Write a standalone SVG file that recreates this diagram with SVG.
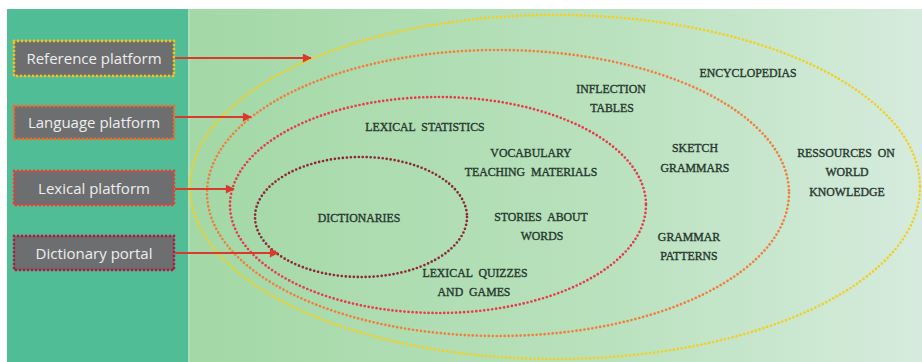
<svg xmlns="http://www.w3.org/2000/svg" width="922" height="362" viewBox="0 0 922 362">
  <defs>
    <linearGradient id="fieldGrad" x1="0" y1="0" x2="1" y2="0">
      <stop offset="0" stop-color="#a3d8a6"/>
      <stop offset="0.55" stop-color="#b8e1bc"/>
      <stop offset="1" stop-color="#d6ebdd"/>
    </linearGradient>
    <marker id="arrowHead" viewBox="0 0 10 10" refX="9" refY="5" markerWidth="10" markerHeight="9" markerUnits="userSpaceOnUse" orient="auto">
      <path d="M0,0 L10,5 L0,10 z" fill="#d83a2c"/>
    </marker>
    <style>
      .panel-box { fill: #6d6e70; stroke-width: 2.8; stroke-dasharray: 0 4; stroke-linecap: round; }
      .box-label { font-family: "Open Sans", "Noto Sans", sans-serif; font-size: 15px; fill: #eeeeee; text-anchor: middle; }
      .ring { fill: none; stroke-width: 2.7; stroke-dasharray: 0 4; stroke-linecap: round; }
      .res { font-family: "Liberation Serif", "Times New Roman", serif; font-size: 11.8px; fill: #27372e; text-anchor: middle; word-spacing: 3px; stroke: #27372e; stroke-width: 0.35; }
      .link { stroke: #d83a2c; stroke-width: 2.2; fill: none; marker-end: url(#arrowHead); }
    </style>
  </defs>

  <!-- background panels -->
  <rect x="0" y="0" width="922" height="362" fill="#ffffff"/>
  <rect x="7" y="9" width="182" height="353" fill="#50bd96"/>
  <rect x="188" y="9" width="734" height="353" fill="url(#fieldGrad)"/>
  <rect x="188" y="9" width="2" height="353" fill="#b4e2bc" opacity="0.7"/>

  <!-- nested resource rings -->
  <g id="ring-reference">
    <ellipse class="ring" cx="555" cy="187" rx="365" ry="172" stroke="#f3cf24"/>
  </g>
  <g id="ring-language">
    <ellipse class="ring" cx="498" cy="193" rx="291" ry="143" stroke="#f27d3c"/>
  </g>
  <g id="ring-lexical">
    <ellipse class="ring" cx="438" cy="205" rx="208" ry="108" stroke="#e83a4c"/>
  </g>
  <g id="ring-dictionary">
    <ellipse class="ring" cx="361" cy="217" rx="106" ry="60" stroke="#8e2638"/>
  </g>

  <!-- resource labels -->
  <g id="resources">
    <text class="res" x="748" y="77">ENCYCLOPEDIAS</text>
    <text class="res" x="611" y="93">INFLECTION</text>
    <text class="res" x="612" y="112">TABLES</text>
    <text class="res" x="425" y="131">LEXICAL  STATISTICS</text>
    <text class="res" x="531" y="157">VOCABULARY</text>
    <text class="res" x="531" y="176">TEACHING  MATERIALS</text>
    <text class="res" x="695" y="152">SKETCH</text>
    <text class="res" x="695" y="172">GRAMMARS</text>
    <text class="res" x="846" y="157">RESSOURCES  ON</text>
    <text class="res" x="847" y="176">WORLD</text>
    <text class="res" x="847" y="196">KNOWLEDGE</text>
    <text class="res" x="359" y="222">DICTIONARIES</text>
    <text class="res" x="541" y="221">STORIES  ABOUT</text>
    <text class="res" x="542" y="240">WORDS</text>
    <text class="res" x="475" y="277">LEXICAL  QUIZZES</text>
    <text class="res" x="474" y="296">AND  GAMES</text>
    <text class="res" x="689" y="241">GRAMMAR</text>
    <text class="res" x="689" y="260">PATTERNS</text>
  </g>

  <!-- platform boxes -->
  <g id="reference-platform">
    <rect class="panel-box" x="14" y="41" width="160" height="35" stroke="#f4c21c"/>
    <text class="box-label" x="94" y="64">Reference platform</text>
  </g>
  <g id="language-platform">
    <rect class="panel-box" x="14" y="106" width="160" height="33" stroke="#f26a2c"/>
    <text class="box-label" x="94" y="128">Language platform</text>
  </g>
  <g id="lexical-platform">
    <rect class="panel-box" x="14" y="171" width="160" height="34" stroke="#ec3c38"/>
    <text class="box-label" x="94" y="194">Lexical platform</text>
  </g>
  <g id="dictionary-portal">
    <rect class="panel-box" x="14" y="236" width="160" height="34" stroke="#b01c44"/>
    <text class="box-label" x="94" y="259">Dictionary portal</text>
  </g>

  <!-- connectors -->
  <g id="connectors">
    <line class="link" x1="175" y1="58" x2="311" y2="58"/>
    <line class="link" x1="175" y1="117" x2="251" y2="117"/>
    <line class="link" x1="175" y1="189" x2="234" y2="189"/>
    <line class="link" x1="175" y1="253" x2="278" y2="253"/>
  </g>
</svg>
